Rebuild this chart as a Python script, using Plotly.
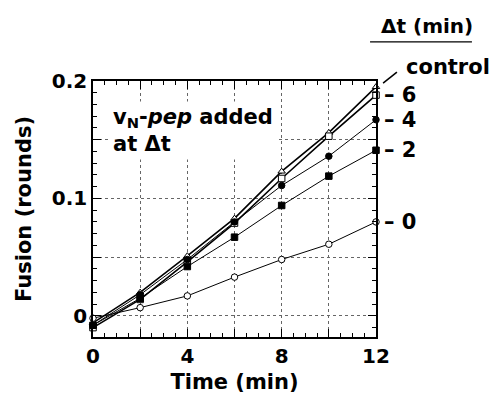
import plotly.graph_objects as go

time_min = [0, 2, 4, 6, 8, 10, 12]
fusion_control = [-0.006, 0.020, 0.051, 0.083, 0.123, 0.156, 0.195]
fusion_6 = [-0.010, 0.014, 0.046, 0.079, 0.117, 0.153, 0.188]
fusion_4 = [-0.008, 0.018, 0.048, 0.080, 0.111, 0.136, 0.167]
fusion_2 = [-0.008, 0.015, 0.042, 0.067, 0.094, 0.119, 0.141]
fusion_0 = [-0.002, 0.007, 0.017, 0.033, 0.048, 0.061, 0.080]

# grid / tick spacing (labels on every second gridline: 0, 4, 8, 12 and 0, 0.1, 0.2)
x_grid_step = 2
y_grid_step = 0.05

FONT = "DejaVu Sans"

series = [
    ("control", fusion_control, "triangle-up", "white", 1.6),
    ("6", fusion_6, "square", "white", 1.6),
    ("4", fusion_4, "circle", "black", 1.0),
    ("2", fusion_2, "square", "black", 1.0),
    ("0", fusion_0, "circle", "white", 1.0),
]

fig = go.Figure()
for name, vals, sym, fill, lw in series:
    fig.add_trace(go.Scatter(
        x=time_min, y=vals, mode="lines+markers", name=name,
        line=dict(color="black", width=lw),
        marker=dict(symbol=sym, size=6.5, color=fill, line=dict(color="black", width=1)),
        showlegend=False, cliponaxis=False,
    ))

# right-hand series labels
for name, vals in [("6", fusion_6), ("4", fusion_4), ("2", fusion_2), ("0", fusion_0)]:
    fig.add_annotation(x=time_min[-1], y=vals[-1], xref="x", yref="y",
                       text="– " + name, showarrow=False, xanchor="left",
                       xshift=6, font=dict(family=FONT, size=21, color="black", weight=700))

fig.add_annotation(x=1.10, y=1.055, xref="paper", yref="paper", text="control",
                   showarrow=False, xanchor="left", yanchor="middle",
                   font=dict(family=FONT, size=21, color="black", weight=700))
fig.add_shape(type="line", xref="paper", yref="paper", x0=1.025, y0=0.992, x1=1.074, y1=1.035,
              line=dict(color="black", width=1.5))

fig.add_annotation(x=1.18, y=1.215, xref="paper", yref="paper", text="Δt (min)",
                   showarrow=False, xanchor="center", yanchor="middle",
                   font=dict(family=FONT, size=20, color="black", weight=700))
fig.add_shape(type="line", xref="paper", yref="paper", x0=0.979, y0=1.153, x1=1.339, y1=1.153,
              line=dict(color="black", width=1.2))

fig.add_annotation(x=0.055, y=0.92, xref="paper", yref="paper",
                   text="v<sub>N</sub>-<i>pep</i> added<br>at Δt",
                   showarrow=False, xanchor="left", yanchor="top", align="left",
                   bgcolor="white", borderpad=3,
                   font=dict(family=FONT, size=21, color="black", weight=700))

axis_common = dict(
    showline=True, linecolor="black", linewidth=1.5, mirror="allticks",
    ticks="inside", ticklen=8, tickwidth=1, tickcolor="black",
    showgrid=True, gridcolor="#666", gridwidth=1, griddash="dot",
    zeroline=False, tickmode="linear", tick0=0, ticklabelstep=2,
    tickfont=dict(family=FONT, size=20, color="black", weight=700),
)

fig.update_xaxes(
    range=[0, 12], dtick=x_grid_step,
    minor=dict(dtick=0.5, ticks="inside", ticklen=4, tickcolor="black", showgrid=False),
    title=dict(text="Time (min)", font=dict(family=FONT, size=21, color="black", weight=700), standoff=8),
    **axis_common,
)
fig.update_yaxes(
    range=[-0.018, 0.2], dtick=y_grid_step,
    minor=dict(dtick=0.01, ticks="inside", ticklen=4, tickcolor="black", showgrid=False),
    title=dict(text="Fusion (rounds)", font=dict(family=FONT, size=21, color="black", weight=700), standoff=14),
    **axis_common,
)

fig.update_layout(
    width=498, height=398,
    margin=dict(l=93, r=122, t=81, b=61, autoexpand=False),
    plot_bgcolor="white", paper_bgcolor="white",
    font=dict(family=FONT, color="black"),
)

fig.write_html("out.html", config={"displayModeBar": False},
               post_script="document.body.style.margin='0';document.body.style.overflow='hidden';")
